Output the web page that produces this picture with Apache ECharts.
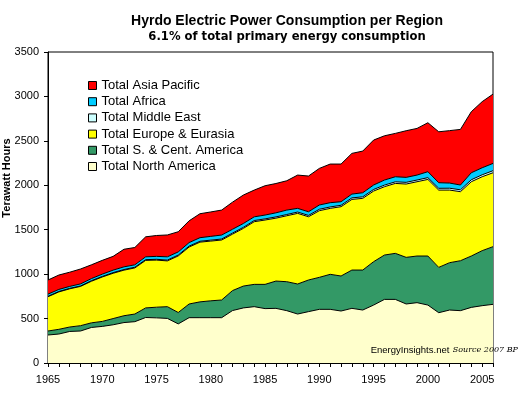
<!DOCTYPE html>
<html><head><meta charset="utf-8">
<script src="https://cdn.jsdelivr.net/npm/echarts@6/dist/echarts.min.js"></script>
<style>html,body{margin:0;padding:0;background:#fff}#c{width:520px;height:393px}</style>
</head><body><div id="c"></div>
<script>
const years = [];
for (let y = 1965; y <= 2006; y++) years.push(String(y));
const northAmerica = [315,326,355,360,400,412,430,455,465,512,508,502,440,510,510,510,510,590,620,634,612,615,589,551,578,604,604,585,615,596,652,716,716,664,679,652,566,596,589,626,645,660];
const southCentAmerica = [45,53,50,60,52,56,70,77,86,108,120,132,128,154,178,190,199,225,246,251,273,307,326,338,356,360,394,394,431,450,488,499,518,525,525,552,510,533,562,578,619,649];
const europeEurasia = [386,421,430,442,468,500,510,513,519,535,530,515,637,641,672,672,675,635,649,705,724,708,742,795,712,750,742,780,795,807,795,769,787,825,836,862,870,817,777,836,832,832];
const middleEast = [5,5,5,5,6,6,7,7,8,8,9,9,10,10,10,11,11,12,12,13,13,14,14,15,15,16,16,16,17,17,18,18,18,19,19,20,20,21,21,22,22,23];
const africa = [24,23,22,23,24,26,28,30,27,32,33,37,35,40,40,42,45,43,43,42,43,46,50,41,41,48,48,40,43,46,50,57,57,56,56,67,63,58,54,79,79,82];
const asiaPacific = [159,162,160,168,155,155,155,198,195,225,235,246,227,245,270,275,281,305,320,301,330,330,330,375,402,412,435,424,458,469,506,498,488,525,525,551,573,590,626,687,744,780];
const yTicks = [0,500,1000,1500,2000,2500,3000,3500];

const seriesDefs = [
  ['Total North America', northAmerica, '#FFFFCC'],
  ['Total S. & Cent. America', southCentAmerica, '#339966'],
  ['Total Europe & Eurasia', europeEurasia, '#FFFF00'],
  ['Total Middle East', middleEast, '#CCFFFF'],
  ['Total Africa', africa, '#00CCFF'],
  ['Total Asia Pacific', asiaPacific, '#FF0000']
];
const FONT = '"Liberation Sans", Arial, sans-serif';
const chart = echarts.init(document.getElementById('c'), null, {renderer:'canvas'});
chart.setOption({
  animation: false,
  backgroundColor: '#fff',
  grid: {left: 48, right: 27, top: 52, bottom: 30, show: true, borderColor: '#000', borderWidth: 1, backgroundColor: '#fff'},
  legend: {
    orient: 'vertical', left: 83, top: 74, icon: 'rect', itemWidth: 8, itemHeight: 8, itemGap: 3.2,
    data: ['Total Asia Pacific','Total Africa','Total Middle East','Total Europe & Eurasia','Total S. & Cent. America','Total North America'],
    itemStyle: {borderColor: '#000', borderWidth: 1},
    textStyle: {fontFamily: FONT, fontSize: 13, color: '#000', lineHeight: 13, padding: [0,0,0,0]}
  },
  xAxis: {
    type: 'category', boundaryGap: false, data: years,
    axisLine: {lineStyle: {color: '#000', width: 1}},
    axisTick: {show: true, interval: 0, length: 4, lineStyle: {color: '#000'}},
    axisLabel: {interval: 4, margin: 11, fontFamily: FONT, fontSize: 11, color: '#000'},
    splitLine: {show: false}
  },
  yAxis: {
    type: 'value', min: yTicks[0], max: yTicks[yTicks.length-1], interval: 500,
    axisLine: {show: true, lineStyle: {color: '#000', width: 1}},
    axisTick: {show: true, length: 4, lineStyle: {color: '#000'}},
    axisLabel: {margin: 9, fontFamily: FONT, fontSize: 11, color: '#000', formatter: v => String(v)},
    splitLine: {show: false}
  },
  series: seriesDefs.map(([name, data, color]) => ({
    name, type: 'line', stack: 'total', data, showSymbol: false, symbol: 'none',
    itemStyle: {color}, lineStyle: {color: '#000', width: 1},
    areaStyle: {color, opacity: 1}
  })),
  graphic: [
    {type:'text', x: 287, y: 21, style:{text:'Hyrdo Electric Power Consumption per Region', font:'bold 14px ' + FONT, fill:'#000', align:'center', verticalAlign:'middle'}},
    {type:'text', x: 287, y: 37, style:{text:'6.1% of total primary energy consumption', font:'bold 11.6px "DejaVu Sans", sans-serif', fill:'#000', align:'center', verticalAlign:'middle'}},
    {type:'text', x: 7, y: 178, rotation: Math.PI/2, style:{text:'Terawatt Hours', font:'bold 11px ' + FONT, fill:'#000', align:'center', verticalAlign:'middle'}},
    {type:'text', x: 410, y: 350, z: 100, style:{text:'EnergyInsights.net', font:'9.5px ' + FONT, fill:'#000', align:'center', verticalAlign:'middle'}},
    {type:'text', x: 518, y: 350, z: 100, style:{text:'Source 2007 BP', font:'italic 8px "DejaVu Serif", serif', fill:'#000', align:'right', verticalAlign:'middle'}}
  ]
});
</script></body></html>
